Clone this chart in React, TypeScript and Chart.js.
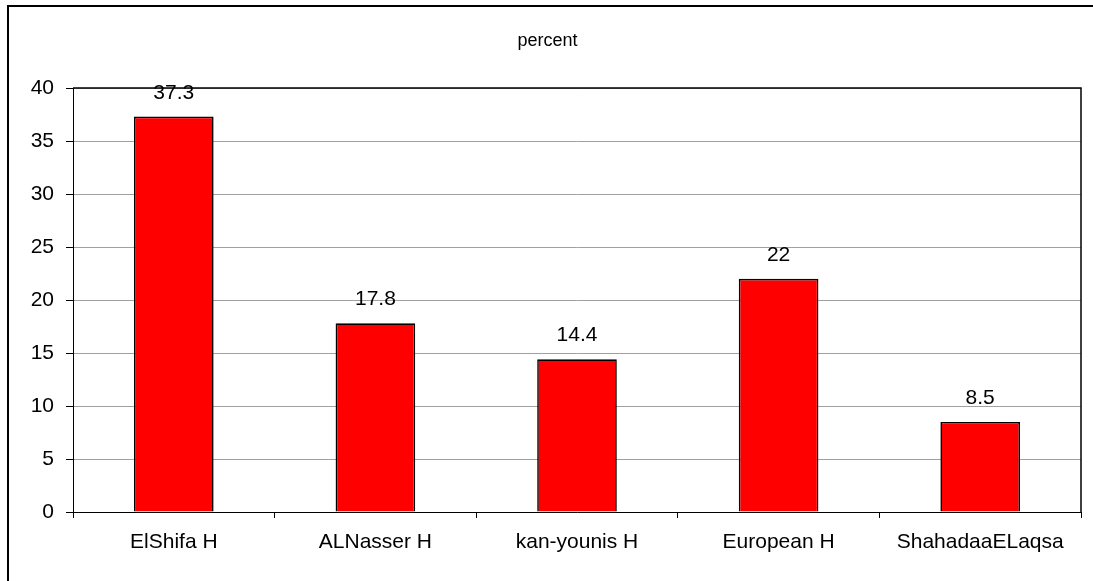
import React, { useEffect, useRef } from "react";
import { Chart, registerables } from "chart.js";

Chart.register(...registerables);

const categories = ["ElShifa H", "ALNasser H", "kan-younis H", "European H", "ShahadaaELaqsa"];
const percentValues = [37.3, 17.8, 14.4, 22, 8.5];
const yMin = 0;
const yMax = 40;
const yStep = 5;
const chartTitle = "percent";

const FONT = "'Liberation Sans', Arial, sans-serif";

const framePlugin = {
  id: "frame",
  beforeDraw(chart: any) {
    const ctx = chart.ctx;
    ctx.save();
    ctx.fillStyle = "#ffffff";
    ctx.fillRect(0, 0, chart.width, chart.height);
    ctx.strokeStyle = "#000000";
    ctx.lineWidth = 2;
    ctx.beginPath();
    ctx.moveTo(8, chart.height);
    ctx.lineTo(8, 6);
    ctx.lineTo(chart.width, 6);
    ctx.stroke();
    ctx.restore();
  },
  afterDatasetsDraw(chart: any) {
    const ctx = chart.ctx;
    const a = chart.chartArea;
    ctx.save();
    ctx.strokeStyle = "#000000";
    ctx.lineWidth = 1.5;
    ctx.beginPath();
    ctx.moveTo(a.left, a.top);
    ctx.lineTo(a.right, a.top);
    ctx.lineTo(a.right, a.bottom);
    ctx.stroke();
    const meta = chart.getDatasetMeta(0);
    const data = chart.data.datasets[0].data;
    ctx.fillStyle = "#000000";
    ctx.font = `21px ${FONT}`;
    ctx.textAlign = "center";
    ctx.textBaseline = "alphabetic";
    meta.data.forEach((el: any, i: number) => {
      ctx.fillText(String(data[i]), el.x, el.y - 18);
    });
    ctx.restore();
  },
};

export default function App() {
  const ref = useRef<HTMLCanvasElement | null>(null);
  useEffect(() => {
    if (!ref.current) return;
    const chart = new Chart(ref.current, {
      type: "bar",
      data: {
        labels: categories,
        datasets: [
          {
            label: chartTitle,
            data: percentValues,
            backgroundColor: "#ff0000",
            borderColor: "#000000",
            borderWidth: 1.6,
            barPercentage: 0.395,
            categoryPercentage: 1,
          },
        ],
      },
      options: {
        animation: false,
        responsive: true,
        maintainAspectRatio: false,
        devicePixelRatio: 1,
        layout: { padding: { left: 14, right: 12, top: 0, bottom: 0 } },
        plugins: {
          legend: { display: false },
          tooltip: { enabled: false },
          title: {
            display: true,
            text: chartTitle,
            color: "#000000",
            font: { family: FONT, size: 18, weight: "normal" as any, lineHeight: 1.2 },
            padding: { top: 30, bottom: 36.4 },
          },
        },
        scales: {
          x: {
            type: "category",
            offset: true,
            grid: {
              display: true,
              drawOnChartArea: false,
              drawTicks: true,
              tickLength: 6,
              offset: true,
              color: "#000000",
            },
            border: { display: true, color: "#000000", width: 1 },
            ticks: {
              color: "#000000",
              font: { family: FONT, size: 21 },
              padding: 12,
              maxRotation: 0,
              autoSkip: false,
            },
            afterFit: (s: any) => {
              s.height = 69;
            },
          },
          y: {
            min: yMin,
            max: yMax,
            grid: {
              color: "#a0a0a0",
              tickColor: "#000000",
              tickLength: 7,
              drawTicks: true,
            },
            border: { display: true, color: "#000000", width: 1 },
            ticks: {
              stepSize: yStep,
              color: "#000000",
              font: { family: FONT, size: 21 },
              padding: 12,
            },
            afterFit: (s: any) => {
              s.width = 59;
            },
          },
        },
      },
      plugins: [framePlugin],
    });
    return () => chart.destroy();
  }, []);
  return (
    <div style={{ position: "absolute", left: 0, top: 0, width: 1093, height: 581 }}>
      <canvas ref={ref} />
    </div>
  );
}
